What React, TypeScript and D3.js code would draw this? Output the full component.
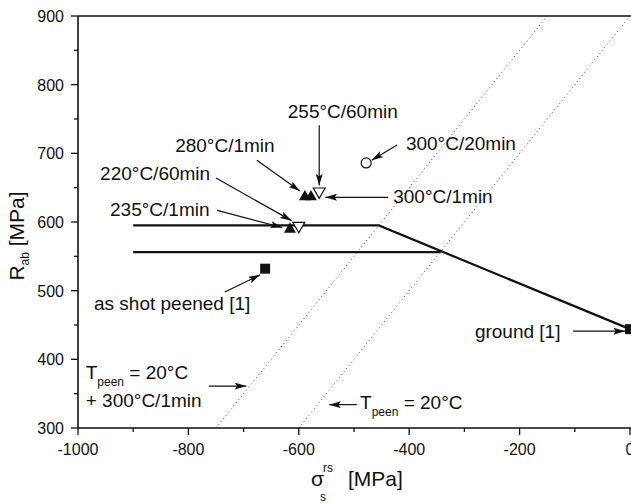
import { useEffect, useRef } from 'react'
import * as d3 from 'd3'

// measured points (sigma_s^rs [MPa], R_ab [MPa])
const filledUp = [
  { x: -616, y: 591 },
  { x: -589, y: 638 },
  { x: -578, y: 638 },
]
const openDown = [
  { x: -600, y: 593 },
  { x: -563, y: 643 },
]
const openCircle = [{ x: -478, y: 686 }]
const filledSquare = [
  { x: -661, y: 532 },
  { x: 0, y: 444 },
]

const upperLine = [
  { x: -900, y: 595 },
  { x: -455, y: 595 },
  { x: 0, y: 444 },
]
const lowerLine = [
  { x: -900, y: 556 },
  { x: -343, y: 556 },
]
const dottedLeft = [
  { x: -750, y: 300 },
  { x: -150, y: 900 },
]
const dottedRight = [
  { x: -600, y: 300 },
  { x: 0, y: 900 },
]

const xTicks = [-1000, -800, -600, -400, -200, 0]
const yTicks = [300, 400, 500, 600, 700, 800, 900]

// label text + arrow (from -> to), in data units
const notes = [
  { text: '255°C/60min', tx: -620, ty: 751, from: [-563, 741], to: [-563, 653] },
  { text: '280°C/1min', tx: -824, ty: 702, from: [-676, 690], to: [-598, 645] },
  { text: '220°C/60min', tx: -960, ty: 661, from: [-750, 664], to: [-613, 602] },
  { text: '235°C/1min', tx: -942, ty: 609, from: [-748, 617], to: [-630, 592] },
  { text: '300°C/20min', tx: -406, ty: 705, from: [-422, 712], to: [-468, 690] },
  { text: '300°C/1min', tx: -429, ty: 628, from: [-438, 636], to: [-552, 636] },
  { text: 'as shot peened [1]', tx: -971, ty: 472, from: [-734, 498], to: [-670, 523] },
  { text: 'ground [1]', tx: -281, ty: 431, from: [-103, 441], to: [-9, 441] },
]
const peenNotes = [
  { line2: '+ 300°C/1min', tx: -986, ty: 371, from: [-763, 361], to: [-695, 361] },
  { line2: '', tx: -489, ty: 328, from: [-495, 334], to: [-545, 334] },
]

const FONT = '"Liberation Sans", Arial, sans-serif'

export default function App() {
  const ref = useRef<SVGSVGElement | null>(null)

  useEffect(() => {
    const W = 631
    const H = 504
    const svg = d3.select(ref.current)
    svg.selectAll('*').remove()
    svg.attr('width', W).attr('height', H)

    const x = d3.scaleLinear().domain([-1000, 0]).range([78, 630])
    const y = d3.scaleLinear().domain([300, 900]).range([428, 16])

    const defs = svg.append('defs')
    defs
      .append('marker')
      .attr('id', 'ah')
      .attr('viewBox', '0 0 10 6')
      .attr('refX', 10)
      .attr('refY', 3)
      .attr('markerWidth', 12)
      .attr('markerHeight', 7)
      .attr('markerUnits', 'userSpaceOnUse')
      .attr('orient', 'auto')
      .append('path')
      .attr('d', 'M0,0 L10,3 L0,6 L2,3 Z')
      .attr('fill', '#111')

    // dotted guide lines
    const line = d3
      .line<{ x: number; y: number }>()
      .x((d) => x(d.x))
      .y((d) => y(d.y))
    ;[dottedLeft, dottedRight].forEach((d) => {
      svg
        .append('path')
        .attr('d', line(d))
        .attr('fill', 'none')
        .attr('stroke', '#444')
        .attr('stroke-width', 1)
        .attr('stroke-dasharray', '1,3')
    })

    // solid lines
    ;[upperLine, lowerLine].forEach((d) => {
      svg
        .append('path')
        .attr('d', line(d))
        .attr('fill', 'none')
        .attr('stroke', '#111')
        .attr('stroke-width', 2.2)
    })

    // axes
    const xMinor = d3.range(-1000, 1, 100)
    const yMinor = d3.range(300, 901, 50)
    const ax = svg.append('g').attr('stroke', '#111')
    ax.append('line').attr('x1', 78).attr('x2', 631).attr('y1', y(300)).attr('y2', y(300)).attr('stroke-width', 1.6)
    ax.append('line').attr('x1', 78).attr('x2', 631).attr('y1', y(900)).attr('y2', y(900)).attr('stroke-width', 1.4)
    ax.append('line').attr('x1', x(-1000)).attr('x2', x(-1000)).attr('y1', 16).attr('y2', 428).attr('stroke-width', 1.6)
    xMinor.forEach((v) => {
      const major = v % 200 === 0
      ax.append('line')
        .attr('x1', x(v)).attr('x2', x(v))
        .attr('y1', y(300)).attr('y2', y(300) + (major ? 7 : 4))
        .attr('stroke-width', 1.3)
    })
    yMinor.forEach((v) => {
      const major = v % 100 === 0
      ax.append('line')
        .attr('y1', y(v)).attr('y2', y(v))
        .attr('x1', x(-1000)).attr('x2', x(-1000) - (major ? 7 : 4))
        .attr('stroke-width', 1.3)
    })

    svg
      .append('g')
      .selectAll('text')
      .data(xTicks)
      .join('text')
      .attr('x', (d) => x(d))
      .attr('y', 455)
      .attr('text-anchor', 'middle')
      .attr('font-family', FONT)
      .attr('font-size', 16)
      .attr('fill', '#111')
      .text((d) => d)

    svg
      .append('g')
      .selectAll('text')
      .data(yTicks)
      .join('text')
      .attr('x', 64)
      .attr('y', (d) => y(d) + 6)
      .attr('text-anchor', 'end')
      .attr('font-family', FONT)
      .attr('font-size', 16)
      .attr('fill', '#111')
      .text((d) => d)

    // axis titles
    const yt = svg
      .append('text')
      .attr('transform', `translate(24,${236}) rotate(-90)`)
      .attr('text-anchor', 'middle')
      .attr('font-family', FONT)
      .attr('font-size', 21)
      .attr('fill', '#111')
    yt.append('tspan').text('R')
    yt.append('tspan').attr('font-size', 12).attr('dy', 5).text('ab')
    yt.append('tspan').attr('dy', -5).text(' [MPa]')

    const xt = svg.append('g').attr('font-family', FONT).attr('fill', '#111')
    xt.append('text').attr('x', 311).attr('y', 486).attr('font-size', 21).text('σ')
    xt.append('text').attr('x', 323).attr('y', 472).attr('font-size', 12).text('rs')
    xt.append('text').attr('x', 320).attr('y', 501).attr('font-size', 12).text('s')
    xt.append('text').attr('x', 348).attr('y', 486).attr('font-size', 21).text('[MPa]')

    // annotations
    const ann = svg.append('g').attr('font-family', FONT).attr('font-size', 19).attr('fill', '#111')
    notes.forEach((n) => {
      ann.append('text').attr('x', x(n.tx)).attr('y', y(n.ty)).text(n.text)
      svg
        .append('line')
        .attr('x1', x(n.from[0])).attr('y1', y(n.from[1]))
        .attr('x2', x(n.to[0])).attr('y2', y(n.to[1]))
        .attr('stroke', '#111')
        .attr('stroke-width', 1.2)
        .attr('marker-end', 'url(#ah)')
    })
    peenNotes.forEach((n) => {
      const t = ann.append('text').attr('x', x(n.tx)).attr('y', y(n.ty))
      t.append('tspan').text('T')
      t.append('tspan').attr('font-size', 12).attr('dy', 7).text('peen')
      t.append('tspan').attr('dy', -7).text(' = 20°C')
      if (n.line2) {
        ann.append('text').attr('x', x(n.tx)).attr('y', y(n.ty) + 28).text(n.line2)
      }
      svg
        .append('line')
        .attr('x1', x(n.from[0])).attr('y1', y(n.from[1]))
        .attr('x2', x(n.to[0])).attr('y2', y(n.to[1]))
        .attr('stroke', '#111')
        .attr('stroke-width', 1.2)
        .attr('marker-end', 'url(#ah)')
    })

    // markers
    const up = d3.symbol(d3.symbolTriangle, 62)
    svg
      .append('g')
      .selectAll('path')
      .data(filledUp)
      .join('path')
      .attr('transform', (d) => `translate(${x(d.x)},${y(d.y) + 1})`)
      .attr('d', up())
      .attr('fill', '#111')

    svg
      .append('g')
      .selectAll('path')
      .data(openDown)
      .join('path')
      .attr('transform', (d) => `translate(${x(d.x)},${y(d.y) - 1}) rotate(180)`)
      .attr('d', up())
      .attr('fill', '#fff')
      .attr('stroke', '#111')
      .attr('stroke-width', 1.2)

    svg
      .append('g')
      .selectAll('circle')
      .data(openCircle)
      .join('circle')
      .attr('cx', (d) => x(d.x))
      .attr('cy', (d) => y(d.y))
      .attr('r', 5)
      .attr('fill', '#fff')
      .attr('stroke', '#111')
      .attr('stroke-width', 1.2)

    svg
      .append('g')
      .selectAll('rect')
      .data(filledSquare)
      .join('rect')
      .attr('x', (d) => x(d.x) - 5)
      .attr('y', (d) => y(d.y) - 5)
      .attr('width', 10)
      .attr('height', 10)
      .attr('fill', '#111')
  }, [])

  return (
    <svg
      ref={ref}
      style={{ position: 'absolute', left: 0, top: 0, background: '#fff' }}
    />
  )
}
